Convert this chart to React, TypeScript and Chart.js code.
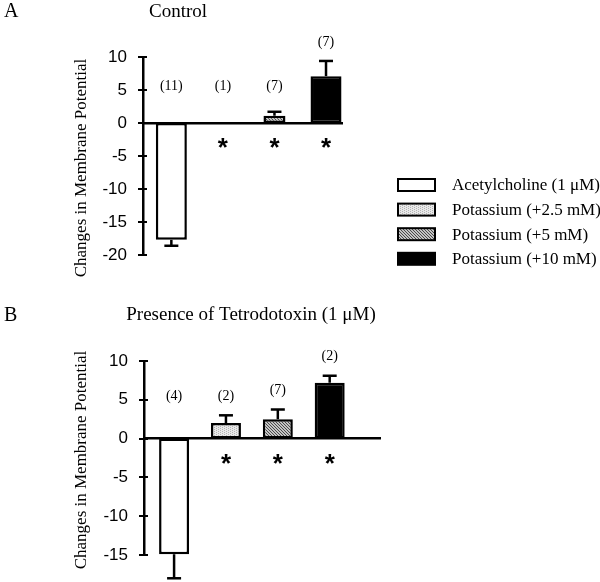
import React, { useEffect, useRef } from 'react';
import { Chart, registerables } from 'chart.js';

Chart.register(...registerables);

const categories = ['Acetylcholine (1 μM)', 'Potassium (+2.5 mM)', 'Potassium (+5 mM)', 'Potassium (+10 mM)'];
const xPositions = [1, 2, 3, 4];

const controlValues = [-17.7, 0, 1.1, 7.1];
const controlErrors = [0.9, 0, 0.6, 2.3];
const controlN = ['(11)', '(1)', '(7)', '(7)'];
const controlSignificant = [false, true, true, true];

const ttxValues = [-14.9, 2.0, 2.5, 7.2];
const ttxErrors = [3.1, 1.0, 1.25, 0.9];
const ttxN = ['(4)', '(2)', '(7)', '(2)'];
const ttxSignificant = [false, true, true, true];

const yTitle = 'Changes in Membrane Potential';
const SERIF = '"Liberation Serif", "Times New Roman", serif';
const SANS = '"Liberation Sans", Arial, sans-serif';

function makePattern(size: number, base: string, dark: string, cells: number[][]) {
  const c = document.createElement('canvas');
  c.width = size;
  c.height = size;
  const g = c.getContext('2d')!;
  g.fillStyle = base;
  g.fillRect(0, 0, size, size);
  g.fillStyle = dark;
  cells.forEach(([x, y]) => g.fillRect(x, y, 1, 1));
  return g.createPattern(c, 'repeat') as CanvasPattern;
}

function makeFills(): any[] {
  const p25 = makePattern(4, '#e8e8e8', '#b4b4b4', [[0, 0], [0, 2], [2, 1], [2, 3]]);
  const p5 = makePattern(3, '#c4c4c4', '#4a4a4a', [[0, 0], [1, 1], [2, 2]]);
  return ['#ffffff', p25, p5, '#000000'];
}

type Spec = {
  values: number[];
  errors: number[];
  ns: string[];
  sig: boolean[];
  yMin: number;
  yMax: number;
  xMin: number;
  xMax: number;
  barWidths: number[];
  padding: { left: number; top: number; right: number; bottom: number };
  yWidth: number;
  yTitleX: number;
  yTitleY: number;
  letter: string;
  letterY: number;
  title: string;
  titleX: number;
  titleY: number;
  legend: boolean;
};

function decorPlugin(spec: Spec, fills: any[]) {
  return {
    id: 'panelDecor',
    afterDraw(chart: any) {
      const ctx = chart.ctx as CanvasRenderingContext2D;
      const xs = chart.scales.x;
      const ys = chart.scales.y;
      const axisX = chart.chartArea.left;
      const zero = ys.getPixelForValue(0);
      ctx.save();
      ctx.strokeStyle = '#000';
      ctx.fillStyle = '#000';
      // cross tick marks on y axis
      ctx.lineWidth = 2;
      ys.ticks.forEach((t: any) => {
        const y = Math.round(ys.getPixelForValue(t.value));
        ctx.beginPath();
        ctx.moveTo(axisX - 5, y);
        ctx.lineTo(axisX + 4, y);
        ctx.stroke();
      });
      spec.values.forEach((v, i) => {
        const e = spec.errors[i];
        const x = xs.getPixelForValue(xPositions[i]);
        const dir = v < 0 ? -1 : 1;
        const yBar = ys.getPixelForValue(v);
        const yEnd = ys.getPixelForValue(v + dir * e);
        if (e > 0) {
          ctx.lineWidth = 2.5;
          ctx.beginPath();
          ctx.moveTo(x, yBar);
          ctx.lineTo(x, yEnd);
          ctx.stroke();
          ctx.beginPath();
          ctx.moveTo(x - 7, yEnd);
          ctx.lineTo(x + 7, yEnd);
          ctx.stroke();
        }
        const top = v > 0 ? Math.min(yEnd, yBar) : zero;
        const ly = Math.min(ys.getPixelForValue(5.5), top - 19);
        ctx.font = `14px ${SERIF}`;
        ctx.textAlign = 'center';
        ctx.textBaseline = 'middle';
        ctx.fillText(spec.ns[i], x, ly);
        if (spec.sig[i]) {
          ctx.font = `bold 26px ${SANS}`;
          ctx.textBaseline = 'alphabetic';
          const m = ctx.measureText('*');
          const asc = m.actualBoundingBoxAscent;
          const desc = m.actualBoundingBoxDescent;
          const cy = zero + 20;
          ctx.fillText('*', x, cy + (asc - desc) / 2);
        }
      });
      // y-axis title
      ctx.save();
      ctx.translate(spec.yTitleX, spec.yTitleY);
      ctx.rotate(-Math.PI / 2);
      ctx.textAlign = 'center';
      ctx.textBaseline = 'middle';
      ctx.font = `17px ${SERIF}`;
      ctx.fillText(yTitle, 0, 0);
      ctx.restore();
      // panel letter and title
      ctx.textBaseline = 'middle';
      ctx.textAlign = 'left';
      ctx.font = `20px ${SERIF}`;
      ctx.fillText(spec.letter, 4, spec.letterY);
      ctx.textAlign = 'center';
      ctx.font = `19px ${SERIF}`;
      ctx.fillText(spec.title, spec.titleX, spec.titleY);
      // legend
      if (spec.legend) {
        categories.forEach((label, i) => {
          const cy = 186 + i * 24.6;
          ctx.fillStyle = fills[i];
          ctx.fillRect(398, cy - 7, 37, 12);
          ctx.lineWidth = 2;
          ctx.strokeStyle = '#000';
          ctx.strokeRect(398, cy - 7, 37, 12);
          ctx.fillStyle = '#000';
          ctx.textAlign = 'left';
          ctx.textBaseline = 'middle';
          ctx.font = `17px ${SERIF}`;
          ctx.fillText(label, 452, cy);
        });
      }
      ctx.restore();
    },
  };
}

function buildConfig(spec: Spec, fills: any[]): any {
  return {
    type: 'bar',
    data: {
      datasets: categories.map((label, i) => ({
        label,
        data: [{ x: xPositions[i], y: spec.values[i] }],
        backgroundColor: fills[i],
        borderColor: '#000',
        borderWidth: 2.5,
        borderSkipped: false,
        grouped: false,
        maxBarThickness: spec.barWidths[i],
      })),
    },
    options: {
      responsive: false,
      animation: false,
      events: [],
      layout: { padding: spec.padding },
      plugins: { legend: { display: false }, tooltip: { enabled: false }, title: { display: false } },
      scales: {
        x: {
          type: 'linear',
          min: spec.xMin,
          max: spec.xMax,
          offset: false,
          position: { y: 0 },
          grid: { display: false, drawTicks: false },
          border: { display: true, color: '#000', width: 2.5 },
          ticks: { display: false },
          afterFit: (s: any) => {
            s.height = 0;
          },
        },
        y: {
          min: spec.yMin,
          max: spec.yMax,
          grid: { display: false, drawTicks: false },
          border: { display: true, color: '#000', width: 2.5 },
          ticks: {
            stepSize: 5,
            color: '#000',
            padding: 16,
            font: { family: SANS, size: 17 },
          },
          title: { display: false },
          afterFit: (s: any) => {
            s.width = spec.yWidth;
          },
        },
      },
    },
  };
}

const specA: Spec = {
  values: controlValues,
  errors: controlErrors,
  ns: controlN,
  sig: controlSignificant,
  yMin: -20,
  yMax: 10,
  xMin: 0.45,
  xMax: 4.31,
  barWidths: [31, 31, 22, 31],
  padding: { left: 68, top: 57, right: 258, bottom: 35 },
  yWidth: 75,
  yTitleX: 82,
  yTitleY: 168,
  letter: 'A',
  letterY: 12,
  title: 'Control',
  titleX: 178,
  titleY: 12,
  legend: true,
};

const specB: Spec = {
  values: ttxValues,
  errors: ttxErrors,
  ns: ttxN,
  sig: ttxSignificant,
  yMin: -15,
  yMax: 10,
  xMin: 0.42,
  xMax: 4.97,
  barWidths: [30, 30, 30, 30],
  padding: { left: 68, top: 71, right: 220, bottom: 27 },
  yWidth: 76,
  yTitleX: 82,
  yTitleY: 170,
  letter: 'B',
  letterY: 26,
  title: 'Presence of Tetrodotoxin (1 μM)',
  titleX: 251,
  titleY: 25,
  legend: false,
};

function Panel({ spec, top, height }: { spec: Spec; top: number; height: number }) {
  const ref = useRef<HTMLCanvasElement>(null);
  useEffect(() => {
    if (!ref.current) return;
    const fills = makeFills();
    const cfg = buildConfig(spec, fills);
    cfg.plugins = [decorPlugin(spec, fills)];
    const chart = new Chart(ref.current, cfg);
    return () => chart.destroy();
  }, [spec]);
  return (
    <canvas
      ref={ref}
      width={600}
      height={height}
      style={{ position: 'absolute', left: 0, top, width: 600, height, display: 'block' }}
    />
  );
}

export default function App() {
  return (
    <div style={{ position: 'absolute', left: 0, top: 0, width: 600, height: 582, background: '#fff', overflow: 'hidden' }}>
      <Panel spec={specA} top={0} height={290} />
      <Panel spec={specB} top={290} height={292} />
    </div>
  );
}
